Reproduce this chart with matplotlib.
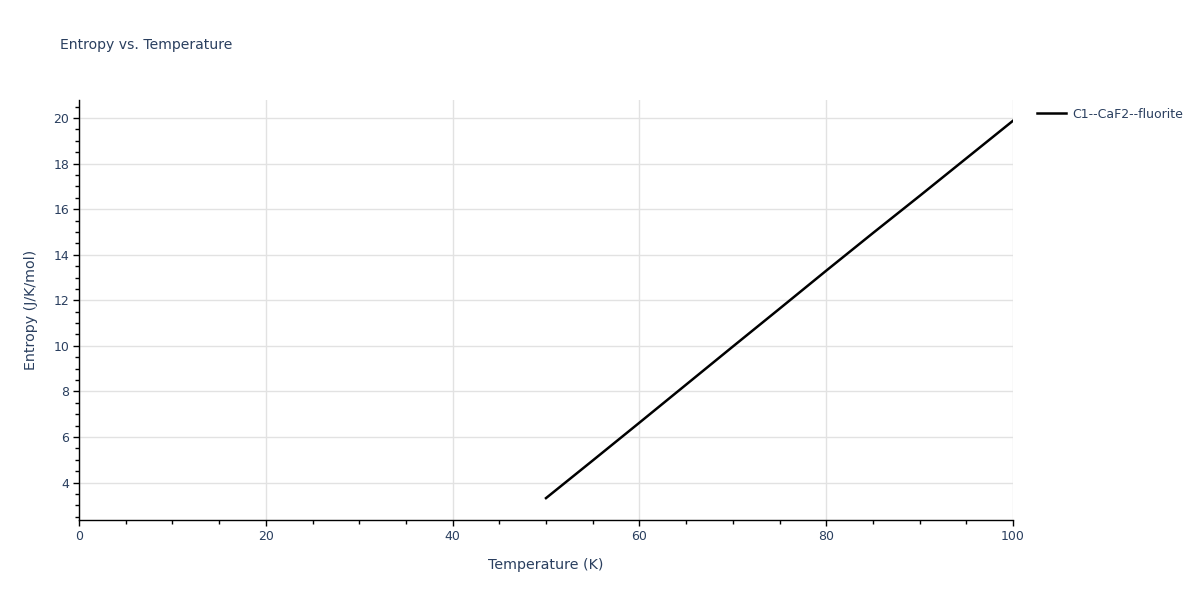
import numpy as np
import matplotlib.pyplot as plt
from matplotlib.ticker import MultipleLocator

plt.rcParams['font.family'] = ['DejaVu Sans']

temperature = [50, 55, 60, 65, 70, 75, 80, 85, 90, 95, 100]
entropy = [3.32, 4.97, 6.63, 8.30, 9.97, 11.63, 13.30, 14.95, 16.58, 18.23, 19.88]
series_name = "C1--CaF2--fluorite"

txt = '#2a3f5f'
grid = '#e2e2e2'

fig = plt.figure(figsize=(12, 6), dpi=100)
ax = fig.add_axes([79 / 1200, 1 - 520 / 600, (1013 - 79) / 1200, 420 / 600])

ax.plot(temperature, entropy, color='black', lw=1.8, label=series_name)

ax.set_xlim(0, 100)
ax.set_ylim(2.36, 20.79)
ax.xaxis.set_major_locator(MultipleLocator(20))
ax.xaxis.set_minor_locator(MultipleLocator(5))
ax.yaxis.set_major_locator(MultipleLocator(2))
ax.yaxis.set_minor_locator(MultipleLocator(0.5))
ax.set_yticks([4, 6, 8, 10, 12, 14, 16, 18, 20])

ax.grid(True, which='major', color=grid, lw=1)
ax.set_axisbelow(True)
for s in ['top', 'right']:
    ax.spines[s].set_visible(False)
for s in ['left', 'bottom']:
    ax.spines[s].set_color('black')
    ax.spines[s].set_linewidth(1)

ax.tick_params(which='major', direction='out', length=4, width=1, color='black',
               labelsize=9, labelcolor=txt, pad=3)
ax.tick_params(which='minor', direction='out', length=3, width=1, color='black')

ax.set_xlabel('Temperature (K)', fontsize=10.3, color=txt, labelpad=11)
ax.set_ylabel('Entropy (J/K/mol)', fontsize=10.3, color=txt, labelpad=11)

fig.text(60 / 1200, 1 - 45 / 600, 'Entropy vs. Temperature', fontsize=10.1,
         color=txt, va='center', ha='left')

ax.legend(loc='center left', bbox_to_anchor=(1.026, 1 - (114 - 100) / 420),
          frameon=False, fontsize=9, labelcolor=txt, handlelength=2.3,
          handletextpad=0.5, borderaxespad=0, borderpad=0)

fig.savefig('out.png', dpi=100)
